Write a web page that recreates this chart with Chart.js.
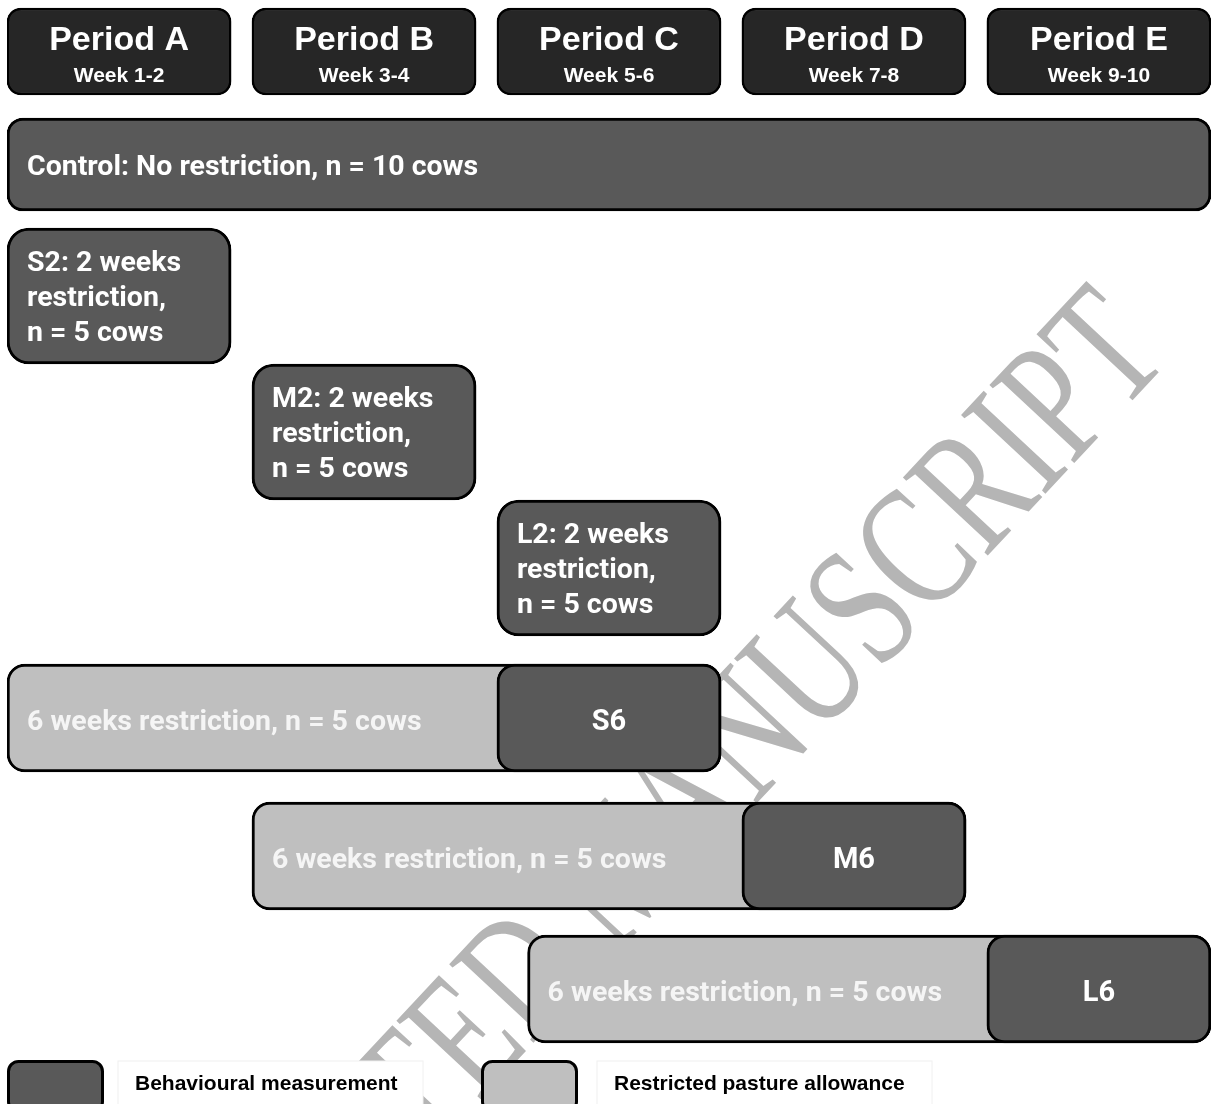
<!DOCTYPE html>
<html>
<head>
<meta charset="utf-8">
<title>Pasture restriction design</title>
<script src="https://cdn.jsdelivr.net/npm/chart.js@4.4.1/dist/chart.umd.min.js"></script>
<style>
  html, body { margin: 0; padding: 0; background: #fff; }
  canvas { display: block; }
</style>
</head>
<body>
<canvas id="design" width="1212" height="1104"></canvas>
<script>
// Study periods (weeks)
const periodNames = ['Period A', 'Period B', 'Period C', 'Period D', 'Period E'];
const periodWeeks = ['Week 1-2', 'Week 3-4', 'Week 5-6', 'Week 7-8', 'Week 9-10'];
const periodStart = [0, 2, 4, 6, 8];
const periodEnd = [2, 4, 6, 8, 10];

// Control group
const controlLabel = 'Control: No restriction, n = 10 cows';
const controlStart = 0;
const controlEnd = 10;

// 2 week restriction groups
const shortGroups = ['S2', 'M2', 'L2'];
const shortStart = [0, 2, 4];
const shortEnd = [2, 4, 6];

// 6 week restriction groups (restriction + measurement at the end)
const longGroups = ['S6', 'M6', 'L6'];
const longStart = [0, 2, 4.25];
const longMeasureStart = [4, 6, 8];
const longEnd = [6, 8, 10];

const legendLabels = ['Behavioural measurement', 'Restricted pasture allowance'];

// Styles / layout
const HEADER = '#262626';
const DARK = '#595959';
const LIGHT = '#bfbfbf';
const GAP = 0.17;          // white space between neighbouring periods (weeks)
const H = 1104;

const rows = ['Periods', 'Control', 'S2', 'M2', 'L2', 'S6', 'M6', 'L6'];
const rowHeight = [87, 93, 136, 136, 136, 108, 108, 108];
const rowSpace = [8, 23, 17, 0, 0, 28, 30, 25];

const rowCenter = {};
let rowTop = 0;
rows.forEach((r, i) => {
    rowTop += rowSpace[i];
    rowCenter[r] = rowTop + rowHeight[i] / 2;
    rowTop += rowHeight[i];
});

function span(s, e) { return [s, e - GAP]; }

const base = {
    grouped: false,
    borderSkipped: false,
    borderWidth: 3,
    borderColor: '#000'
};

const datasets = [
    Object.assign({}, base, {
        label: 'Periods',
        data: periodStart.map((s, i) => ({ x: span(s, periodEnd[i]), y: rowCenter.Periods })),
        backgroundColor: HEADER,
        barThickness: rowHeight[0],
        borderRadius: 14,
        borderWidth: 2.5,
        order: 2,
        texts: periodNames.map((p, i) => [p, periodWeeks[i]]),
        textStyle: { align: 'center', fonts: ['bold 34px "Liberation Sans"', 'bold 21px "Liberation Sans"'], offsets: [-11, 25] }
    }),
    Object.assign({}, base, {
        label: 'Control',
        data: [{ x: span(controlStart, controlEnd), y: rowCenter.Control }],
        backgroundColor: DARK,
        barThickness: rowHeight[1],
        borderRadius: 16,
        order: 2,
        texts: [[controlLabel]],
        textStyle: { align: 'left', fonts: ['bold 28.5px Roboto'], offsets: [3] }
    }),
    Object.assign({}, base, {
        label: '2 weeks restriction',
        data: shortGroups.map((g, i) => ({ x: span(shortStart[i], shortEnd[i]), y: rowCenter[g] })),
        backgroundColor: DARK,
        barThickness: rowHeight[2],
        borderRadius: 22,
        order: 2,
        texts: shortGroups.map(g => [g + ': 2 weeks', 'restriction,', 'n = 5 cows']),
        textStyle: { align: 'left', fonts: ['bold 28.5px Roboto'], offsets: [-32, 3, 38] }
    }),
    Object.assign({}, base, {
        label: 'Restricted pasture allowance',
        data: longGroups.map((g, i) => ({ x: span(longStart[i], longEnd[i]), y: rowCenter[g] })),
        backgroundColor: LIGHT,
        barThickness: rowHeight[5],
        borderRadius: 18,
        order: 1,
        texts: longGroups.map(() => ['6 weeks restriction, n = 5 cows']),
        textStyle: { align: 'left', color: '#f5f5f5', fonts: ['bold 28.5px Roboto'], offsets: [5] }
    }),
    Object.assign({}, base, {
        label: 'Behavioural measurement',
        data: longGroups.map((g, i) => ({ x: span(longMeasureStart[i], longEnd[i]), y: rowCenter[g] })),
        backgroundColor: DARK,
        barThickness: rowHeight[5],
        borderRadius: 18,
        order: 0,
        texts: longGroups.map(g => [g]),
        textStyle: { align: 'center', fonts: ['bold 29px Roboto'], offsets: [5] }
    })
];

// Watermark sits behind the bars
const watermark = {
    id: 'watermark',
    beforeDatasetsDraw(chart) {
        const ctx = chart.ctx;
        ctx.save();
        ctx.translate(1172, 358);
        ctx.rotate(-47 * Math.PI / 180);
        ctx.scale(0.72, 1);
        ctx.font = '176px "Liberation Serif"';
        ctx.fillStyle = '#b5b5b5';
        ctx.textAlign = 'right';
        ctx.textBaseline = 'alphabetic';
        ctx.fillText('ACCEPTED MANUSCRIPT', 0, 0);
        ctx.restore();
    }
};

// Text inside the boxes
const barLabels = {
    id: 'barLabels',
    afterDatasetsDraw(chart) {
        const ctx = chart.ctx;
        chart.data.datasets.forEach((ds, di) => {
            if (!ds.texts) return;
            const st = ds.textStyle;
            chart.getDatasetMeta(di).data.forEach((bar, i) => {
                const p = bar.getProps(['x', 'y', 'base'], true);
                const left = Math.min(p.x, p.base);
                const right = Math.max(p.x, p.base);
                ctx.save();
                ctx.fillStyle = st.color || '#fff';
                ctx.textBaseline = 'middle';
                ctx.textAlign = st.align;
                const tx = st.align === 'center' ? (left + right) / 2 : left + 20;
                ds.texts[i].forEach((line, li) => {
                    ctx.font = st.fonts[Math.min(li, st.fonts.length - 1)];
                    ctx.fillText(line, tx, p.y + st.offsets[li]);
                });
                ctx.restore();
            });
        });
    }
};

// Legend along the bottom edge
const legendBox = {
    id: 'legendBox',
    afterDraw(chart) {
        const ctx = chart.ctx;
        const colors = [DARK, LIGHT];
        const boxX = [7, 481];
        const textX = [135, 614];
        const textW = [265, 295];
        const y = 1060;
        legendLabels.forEach((lab, i) => {
            ctx.save();
            ctx.fillStyle = '#fff';
            ctx.strokeStyle = '#f0f0f0';
            ctx.lineWidth = 1;
            ctx.fillRect(textX[i] - 17, y + 1, textW[i] + 40, 50);
            ctx.strokeRect(textX[i] - 17, y + 1, textW[i] + 40, 50);
            ctx.beginPath();
            ctx.roundRect(boxX[i] + 1.5, y + 1.5, 94, 50, 10);
            ctx.fillStyle = colors[i];
            ctx.fill();
            ctx.lineWidth = 3;
            ctx.strokeStyle = '#000';
            ctx.stroke();
            ctx.fillStyle = '#000';
            ctx.font = 'bold 21px "Liberation Sans"';
            ctx.textBaseline = 'middle';
            ctx.textAlign = 'left';
            ctx.fillText(lab, textX[i], y + 24, textW[i]);
            ctx.restore();
        });
    }
};

new Chart(document.getElementById('design'), {
    type: 'bar',
    data: { datasets: datasets },
    options: {
        indexAxis: 'y',
        responsive: false,
        animation: false,
        devicePixelRatio: 1,
        events: [],
        layout: { padding: { left: 7, right: 1, top: 0, bottom: 0 } },
        scales: {
            x: { type: 'linear', min: 0, max: 10 - GAP, offset: false, display: false },
            y: { type: 'linear', min: 0, max: H, reverse: true, offset: false, display: false }
        },
        plugins: {
            legend: { display: false },
            tooltip: { enabled: false }
        }
    },
    plugins: [watermark, barLabels, legendBox]
});
</script>
</body>
</html>
